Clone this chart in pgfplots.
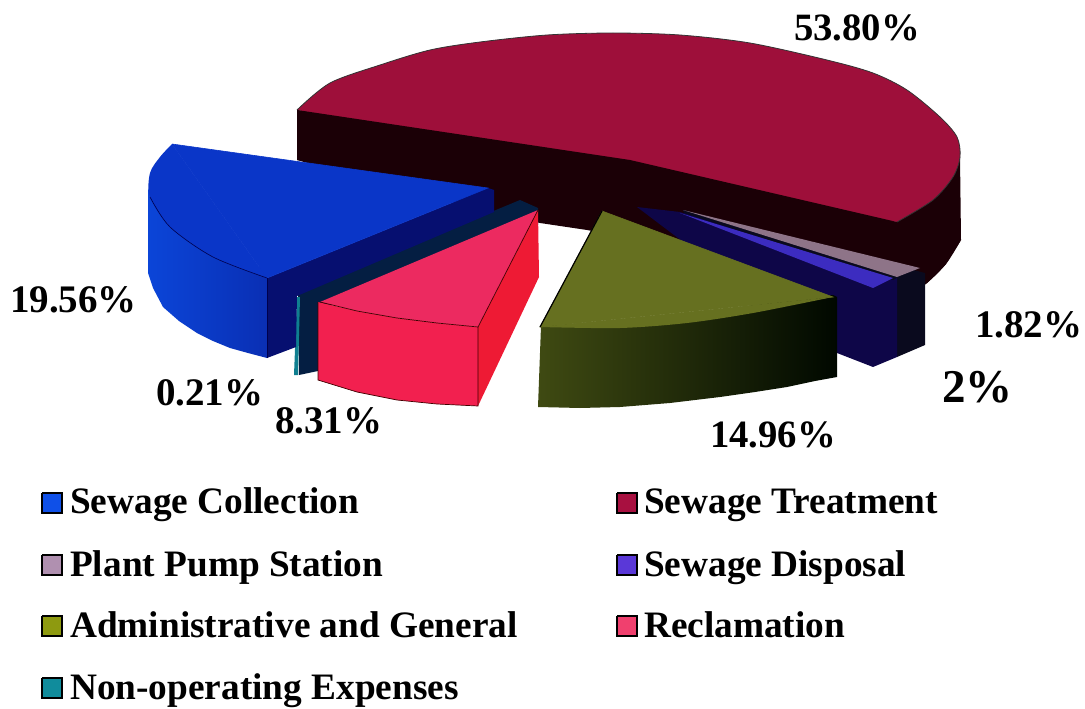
\documentclass[border=0pt]{standalone}
\usepackage{pgfplots}
\pgfplotsset{compat=1.18}
\usepackage{fontspec}
\setmainfont{Liberation Serif}
\definecolor{mtop}{HTML}{9E0F3A}
\definecolor{mside}{HTML}{1B0006}
\definecolor{btop}{HTML}{0A36C8}
\definecolor{bsideL}{HTML}{0B45D8}
\definecolor{bsideR}{HTML}{0A2FB4}
\definecolor{bdark}{HTML}{060F70}
\definecolor{tface}{HTML}{041E42}
\definecolor{teal}{HTML}{0F7F90}
\definecolor{ptop}{HTML}{EC2A60}
\definecolor{pfront}{HTML}{F2204F}
\definecolor{pright}{HTML}{EE1A34}
\definecolor{otop}{HTML}{667020}
\definecolor{osideL}{HTML}{3F4A12}
\definecolor{osideR}{HTML}{000800}
\definecolor{gtop}{HTML}{8E7488}
\definecolor{gside}{HTML}{0A0A1E}
\definecolor{dtop}{HTML}{3C2CC0}
\definecolor{dside}{HTML}{0E0648}
\definecolor{lgolive}{HTML}{8E9A10}
\definecolor{lgblue}{HTML}{0F50E8}
\definecolor{lgred}{HTML}{A81040}
\definecolor{lggrey}{HTML}{B090B0}
\definecolor{lgpurple}{HTML}{5A38D8}
\definecolor{lgpink}{HTML}{F0406E}
\definecolor{lgteal}{HTML}{108C9C}
\newcommand{\vlab}[3]{\node[anchor=base west,inner sep=0pt,font=\fontsize{#3}{#3}\selectfont\bfseries] at (axis cs:#1) {#2};}
\newcommand{\lgd}[2]{\node[anchor=base west,inner sep=0pt,font=\fontsize{37.3}{38}\selectfont\bfseries] at (axis cs:#1) {#2};}
\begin{document}
\begin{tikzpicture}
\begin{axis}[scale only axis,width=1085pt,height=709pt,xmin=0,xmax=1085,ymin=0,ymax=709,y dir=reverse,hide axis,clip=false]
% keeps the whole frame in the picture
\addplot[draw=none] coordinates {(0,0)(1085,709)};
% Sewage Treatment: side then top
\addplot[fill=mside,draw=none] coordinates {(297,110)(630,160)(897,222)(953,177)(960,157)(961,240)(946,264)(927,283)(905,298)(800,280)(640,240)(587,230)(540,223)(400,190)(297,160)(297,110)};
\addplot[fill=mside,draw=none,smooth] coordinates {(961,240)(946,264)(927,283)(905,298)};
\addplot[fill=mtop,draw=black!80,line width=0.8pt,smooth] coordinates {(297,110)(330,83)(380,65)(430,50)(480,42)(547,35)(613,33)(680,35)(750,43)(827,60)(873,73)(907,90)(940,117)(957,137)(960,157)(953,177)(933,200)(897,222)};
\addplot[fill=mside,draw=none] coordinates {(297,110)(630,160)(897,222)(630,195)(297,160)(297,110)};
% Plant Pump Station
\addplot[fill=gside,draw=none] coordinates {(683,210)(925,273)(925,345)(897,357)(840,340)(700,260)(683,210)};
\addplot[fill=gtop,draw=none] coordinates {(683,210)(920,268)(897,277)(683,210)};
% Sewage Disposal
\addplot[fill=dside,draw=none] coordinates {(637,207)(680,212)(893,280)(897,278)(897,357)(873,367)(837,353)(760,300)(637,207)};
\addplot[fill=dtop,draw=none] coordinates {(680,213)(893,278)(873,288)(680,213)};
% Administrative and General
\addplot[left color=osideL,right color=osideR,draw=none] coordinates {(541,326)(620,320)(687,315)(753,305)(833,295)(837,297)(837,377)(815,381)(787,387)(755,392)(720,397)(670,403)(620,407)(580,408)(538,407)(541,326)};
\addplot[fill=otop,draw=none,smooth] coordinates {(540,327)(620,328)(687,323)(753,313)(833,297)};
\addplot[fill=otop,draw=otop,line width=0.6pt] coordinates {(602,211)(833,297)(540,327)(602,211)};
\addplot[draw=black,line width=1.2pt] coordinates {(602,211)(540,327)};
% Non-operating Expenses
\addplot[fill=tface,draw=none] coordinates {(298,292)(520,200)(538,208)(538,225)(318,310)(318,371)(299,375)(298,292)};
\addplot[fill=teal,draw=none] coordinates {(297,297)(300,297)(298,375)(294,375)(297,297)};
% Sewage Collection
\addplot[fill=bdark,draw=none] coordinates {(267,278)(488,188)(494,190)(494,212)(297,296)(296,347)(267,358)(267,278)};
\addplot[left color=bsideL,right color=bsideR,draw=none] coordinates {(155,180)(160,210)(180,225)(213,250)(267,270)(267,358)(248,353)(230,348)(213,341)(197,333)(179,321)(163,307)(153,288)(148,273)(148,190)(155,180)};
\addplot[fill=btop,draw=none,smooth] coordinates {(172,144)(160,157)(150,173)(150,197)(170,227)(213,257)(267,278)};
\addplot[fill=btop,draw=btop,line width=0.6pt] coordinates {(172,144)(488,188)(267,278)(172,144)};
\addplot[draw=black!70!blue,line width=0.6pt,smooth] coordinates {(150,197)(170,227)(213,257)(267,278)};
\addplot[draw=black!70!blue,line width=0.6pt] coordinates {(267,278)(267,358)};
% Reclamation
\addplot[fill=pright,draw=none] coordinates {(478,327)(538,210)(539,277)(478,406)(478,327)};
\addplot[fill=pfront,draw=none] coordinates {(318,302)(357,311)(397,318)(437,323)(478,327)(478,406)(437,404)(397,400)(357,392)(318,380)(318,302)};
\addplot[fill=ptop,draw=none] coordinates {(538,210)(478,327)(437,323)(397,318)(357,311)(320,302)(538,210)};
\addplot[draw=black!75!red,line width=0.7pt] coordinates {(320,302)(357,311)(397,318)(437,323)(478,327)(538,210)};
\addplot[draw=black!75!red,line width=0.7pt] coordinates {(478,327)(478,406)(437,404)(397,400)(357,392)(318,380)(318,302)};
% Legend squares
\addplot[fill=lgblue,draw=black,line width=1.6pt] coordinates {(42,493)(62,493)(62,513)(42,513)(42,493)};
\addplot[fill=lgred,draw=black,line width=1.6pt] coordinates {(617,493)(637,493)(637,513)(617,513)(617,493)};
\addplot[fill=lggrey,draw=black,line width=1.6pt] coordinates {(42,555)(62,555)(62,575)(42,575)(42,555)};
\addplot[fill=lgpurple,draw=black,line width=1.6pt] coordinates {(617,555)(637,555)(637,575)(617,575)(617,555)};
\addplot[fill=lgolive,draw=black,line width=1.6pt] coordinates {(42,616)(62,616)(62,636)(42,636)(42,616)};
\addplot[fill=lgpink,draw=black,line width=1.6pt] coordinates {(617,616)(637,616)(637,636)(617,636)(617,616)};
\addplot[fill=lgteal,draw=black,line width=1.6pt] coordinates {(42,678)(62,678)(62,698)(42,698)(42,678)};
\lgd{70,513}{Sewage Collection}
\lgd{644,513}{Sewage Treatment}
\lgd{70,576}{Plant Pump Station}
\lgd{644,576}{Sewage Disposal}
\lgd{70,637}{Administrative and General}
\lgd{644,637}{Reclamation}
\lgd{70,699}{Non-operating Expenses}
\vlab{794,41}{53.80\%}{38.7}
\vlab{975,337}{1.82\%}{39}
\vlab{942,402}{2\%}{47}
\vlab{710,447}{14.96\%}{38.7}
\vlab{10,312}{19.56\%}{39}
\vlab{156,405}{0.21\%}{39}
\vlab{275,433}{8.31\%}{39}
\end{axis}
\end{tikzpicture}
\end{document}
